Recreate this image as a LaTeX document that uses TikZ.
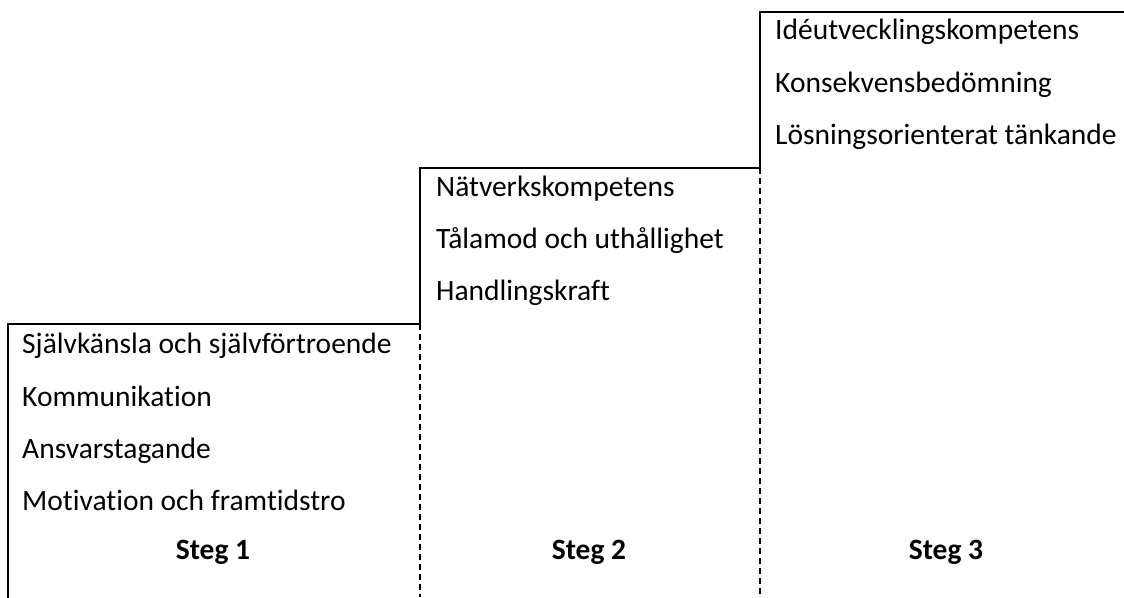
\documentclass[tikz,border=0pt]{standalone}
\usepackage{fontspec}
\setmainfont{Carlito}[Ligatures={NoCommon}]
\begin{document}
\begin{tikzpicture}[x=1pt,y=-1pt,
  solidline/.style={line width=2pt,line cap=rect},
  dashline/.style={line width=2pt,dash pattern=on 6pt off 4pt},
  item/.style={anchor=base west,inner sep=0pt,font=\fontsize{29.5}{36}\selectfont},
  steglabel/.style={anchor=base,inner sep=0pt,font=\fontsize{29.5}{36}\selectfont\bfseries}]
\useasboundingbox (0,0) rectangle (1124,597);
% corners
\coordinate (b1) at (8,597);
\coordinate (t1) at (8,324);
\coordinate (t12) at (420,324);
\coordinate (t2) at (420,168);
\coordinate (t23) at (760,168);
\coordinate (t3) at (760,12);
\coordinate (t3r) at (1124,12);
\coordinate (d1b) at (420,597);
\coordinate (d2b) at (760,597);
\draw[solidline] (b1) -- (t1) -- (t12) -- (t2) -- (t23) -- (t3) -- (t3r);
\draw[dashline] (t12) -- (d1b);
\draw[dashline] (t23) -- (d2b);
% step 1
\node[item] (a1) at (22,353) {Självkänsla och självförtroende};
\node[item] (a2) at (22,406) {Kommunikation};
\node[item] (a3) at (22,458) {Ansvarstagande};
\node[item] (a4) at (22,510) {Motivation och framtidstro};
\node[steglabel] (s1) at (213,559) {Steg 1};
% step 2
\node[item] (b2a) at (436,196) {Nätverkskompetens};
\node[item] (b2b) at (436,248) {Tålamod och uthållighet};
\node[item] (b2c) at (436,300) {Handlingskraft};
\node[steglabel] (s2) at (589,559) {Steg 2};
% step 3
\node[item] (c1) at (775,39) {Idéutvecklingskompetens};
\node[item] (c2) at (775,92) {Konsekvensbedömning};
\node[item] (c3) at (775,144) {Lösningsorienterat tänkande};
\node[steglabel] (s3) at (946,559) {Steg 3};
\end{tikzpicture}
\end{document}
